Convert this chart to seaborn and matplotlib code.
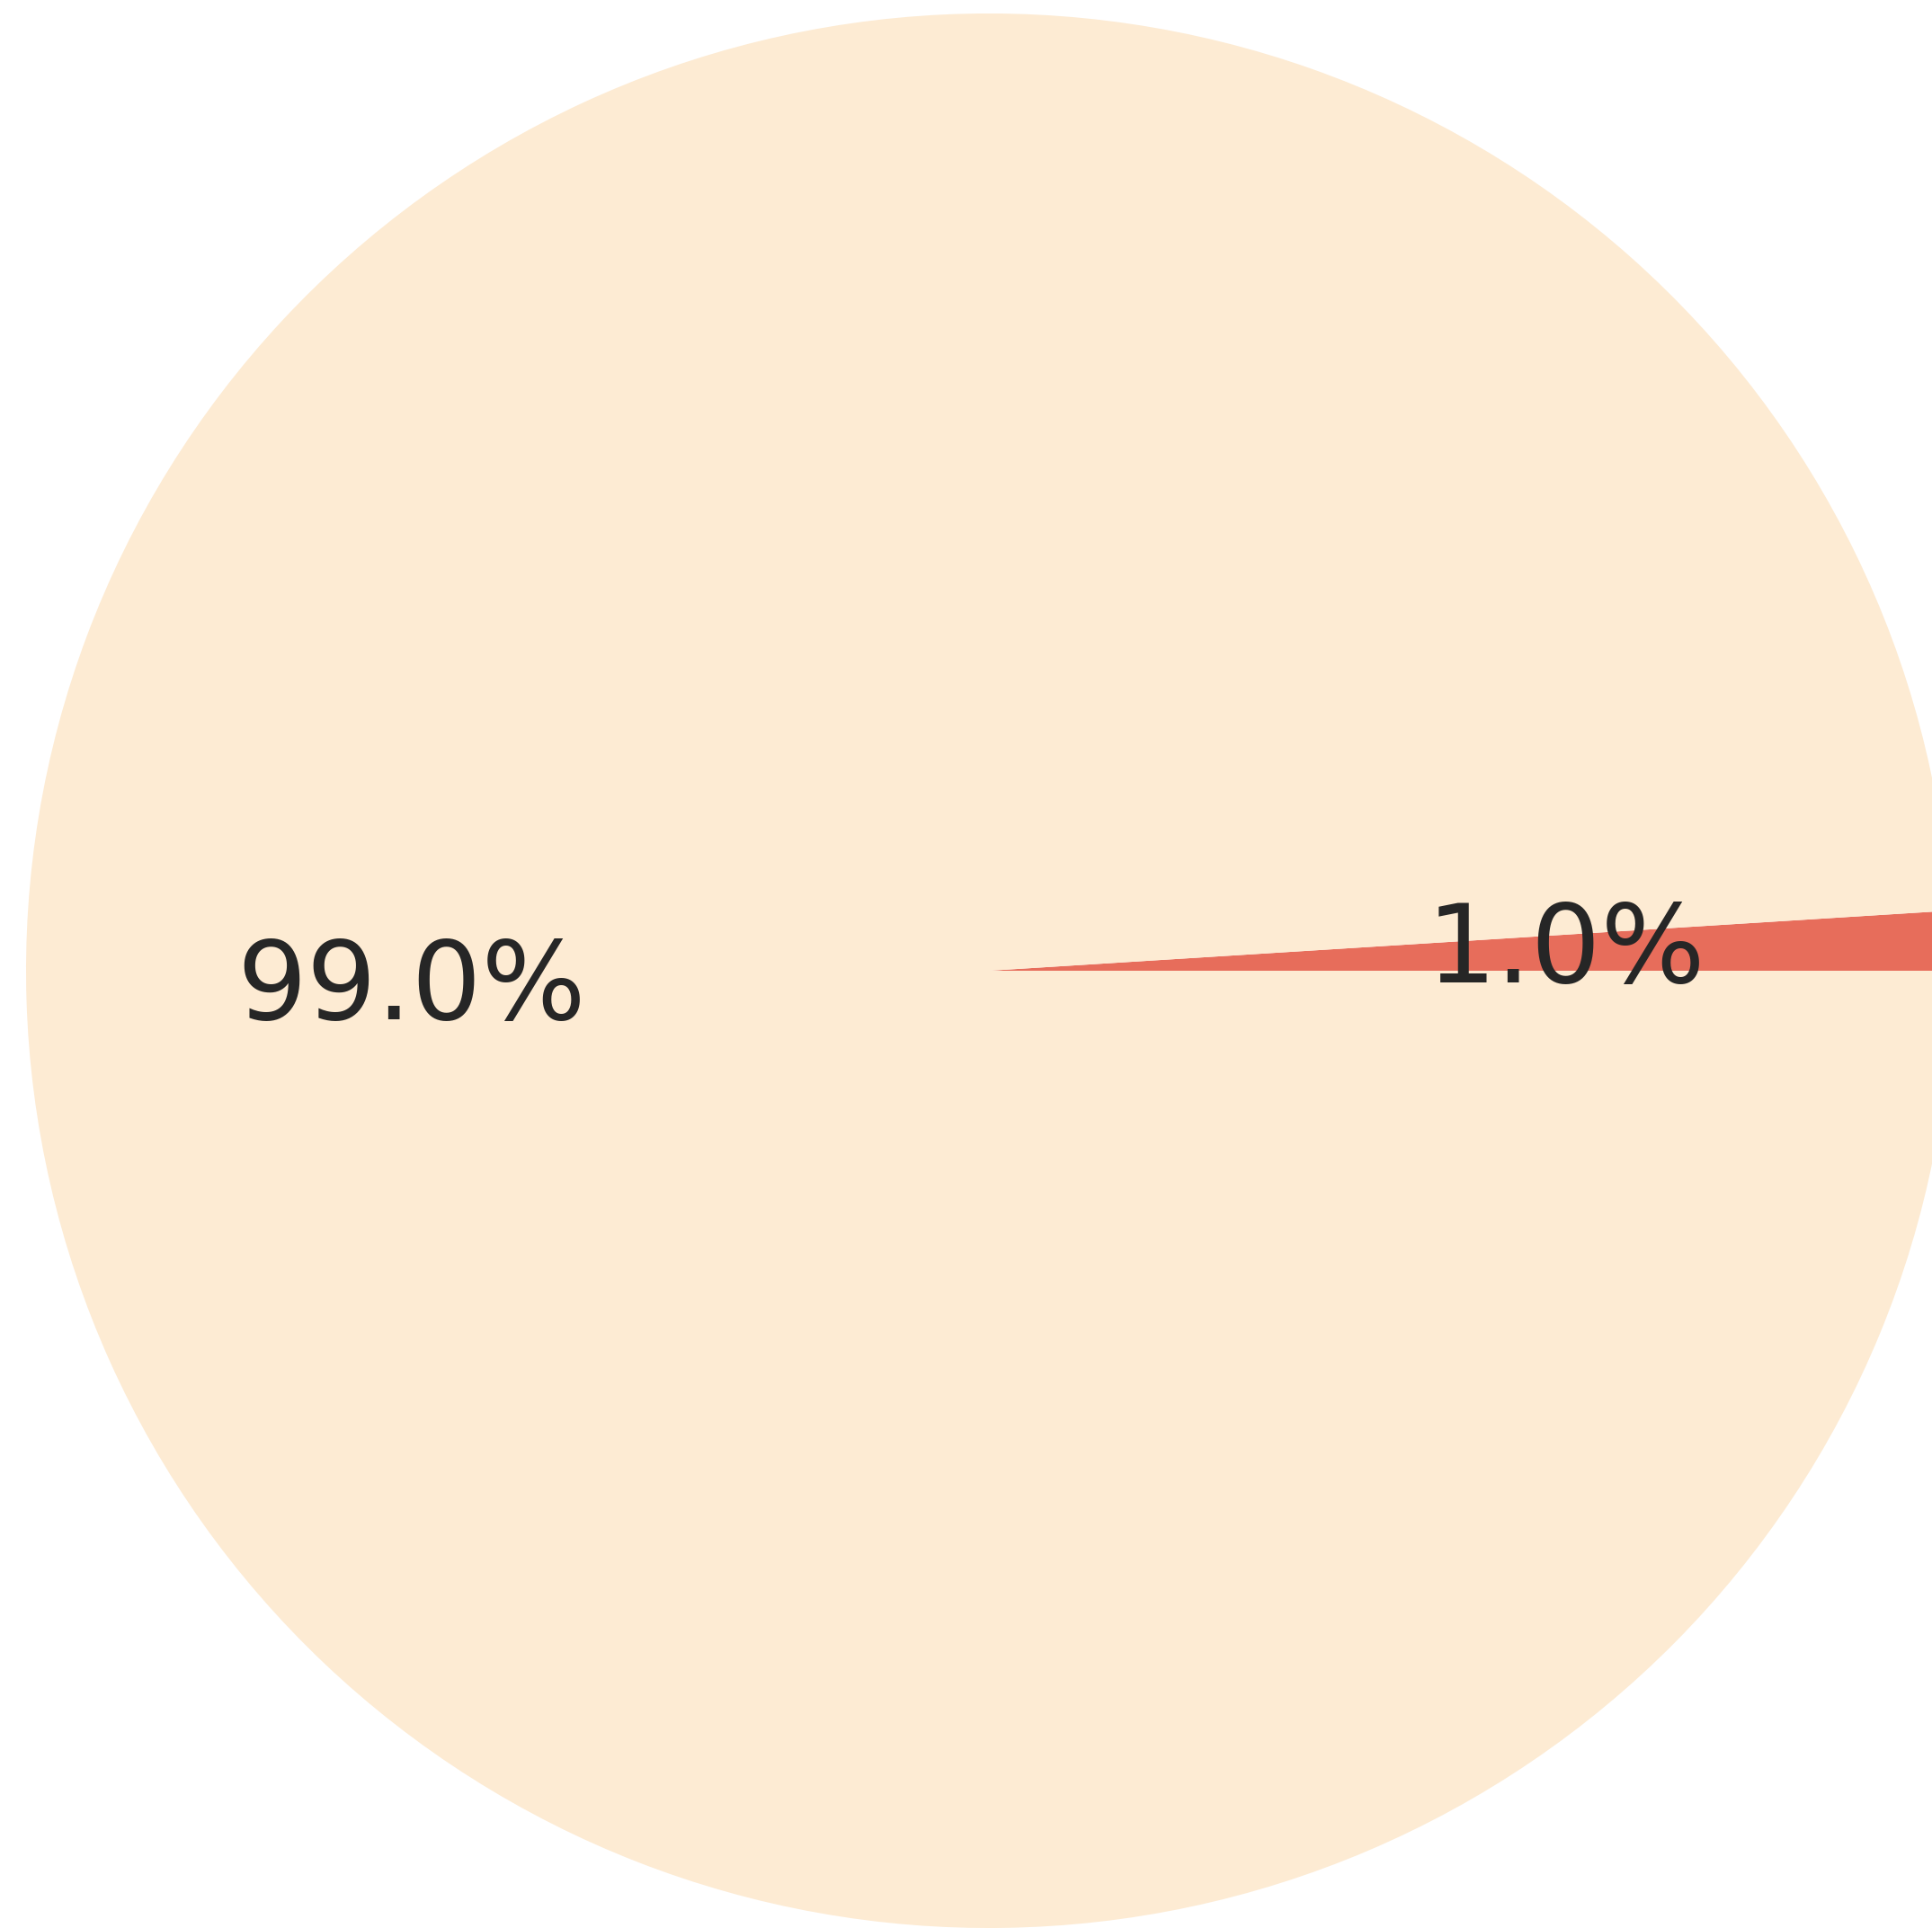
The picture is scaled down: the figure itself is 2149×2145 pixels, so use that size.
import matplotlib.pyplot as plt
import seaborn as sns

# ------------------------------
# DATA
# ------------------------------
categories = ["minority", "majority"]
values = [1.0, 99.0]
colors = ["#E76D5B", "#FDEBD3"]

# ------------------------------
# STYLE
# ------------------------------
sns.set_theme(style="white")

fig = plt.figure(figsize=(21.49, 21.45), dpi=100)
ax = fig.add_axes([0, 0, 1, 1])

ax.pie(
    values,
    colors=colors,
    startangle=0,
    counterclock=True,
    autopct="%1.1f%%",
    pctdistance=0.6,
    textprops={"fontsize": 88, "color": "#262626"},
    wedgeprops={"linewidth": 0},
)

# place pie so it runs off the right and bottom edges like the original
rx_px, ry_px = 1071, 1065
cx, cy = 1100, 1080
ax.set_aspect("auto")
ax.set_xlim(-cx / rx_px, (2149 - cx) / rx_px)
ax.set_ylim(-(2145 - cy) / ry_px, cy / ry_px)
ax.axis("off")

fig.savefig("out.png", dpi=100)
plt.close(fig)
